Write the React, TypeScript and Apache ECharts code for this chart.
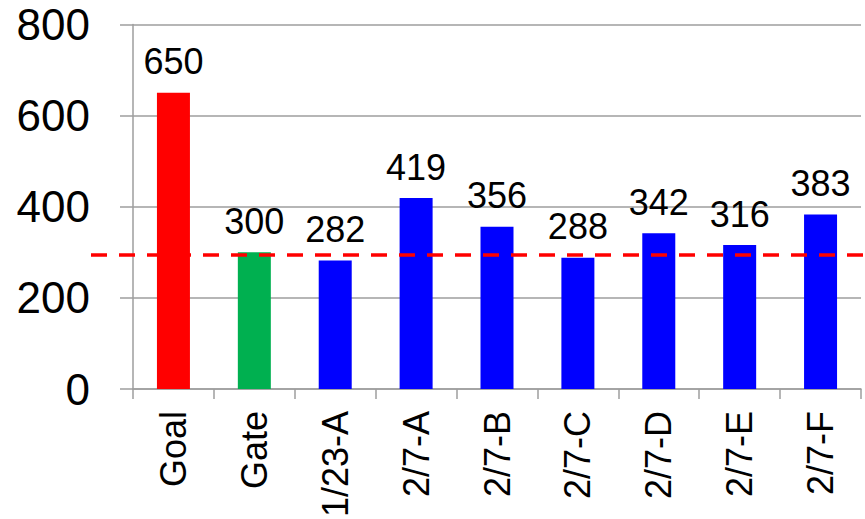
import React, { useEffect, useRef } from "react";
import * as echarts from "echarts";

const categories = ["Goal", "Gate", "1/23-A", "2/7-A", "2/7-B", "2/7-C", "2/7-D", "2/7-E", "2/7-F"];
const values = [650, 300, 282, 419, 356, 288, 342, 316, 383];
const barColors = ["#FF0000", "#00B050", "#0000FF", "#0000FF", "#0000FF", "#0000FF", "#0000FF", "#0000FF", "#0000FF"];
const thresholdValue = 294;
const yTicks = { min: 0, max: 800, interval: 200 };

const FONT = "'Liberation Sans', Arial, sans-serif";
const GRAY = "#9e9e9e";

export default function App() {
  const ref = useRef<HTMLDivElement>(null);
  useEffect(() => {
    if (!ref.current) return;
    const chart = echarts.init(ref.current, null, { renderer: "svg" });
    chart.setOption({
      animation: false,
      grid: { left: 133, right: 4, top: 24.5, bottom: 130, containLabel: false, outerBoundsMode: "none" },
      xAxis: {
        type: "category",
        data: categories,
        axisLine: { lineStyle: { color: GRAY, width: 1.5 } },
        axisTick: { show: true, length: 10, lineStyle: { color: GRAY, width: 1.5 } },
        axisLabel: {
          rotate: 90,
          fontSize: 36,
          fontFamily: FONT,
          color: "#000",
          margin: 22,
          interval: 0,
        },
      },
      yAxis: {
        type: "value",
        min: yTicks.min,
        max: yTicks.max,
        interval: yTicks.interval,
        axisLine: { show: true, lineStyle: { color: GRAY, width: 1.5 } },
        axisTick: { show: true, length: 13, lineStyle: { color: GRAY, width: 1.5 } },
        splitLine: { show: true, lineStyle: { color: GRAY, width: 1.5 } },
        axisLabel: { fontSize: 44, fontFamily: FONT, color: "#000", margin: 43 },
      },
      series: [
        {
          type: "bar",
          barWidth: 33,
          data: values.map((v, i) => ({ value: v, itemStyle: { color: barColors[i] } })),
          label: {
            show: true,
            position: "top",
            distance: 13,
            fontSize: 36,
            fontFamily: FONT,
            color: "#000",
          },
        },
      ],
    });
    const y = chart.convertToPixel({ yAxisIndex: 0 }, thresholdValue) as number;
    chart.setOption({
      graphic: [
        {
          type: "line",
          z: 100,
          shape: { x1: 91, y1: y, x2: 865, y2: y },
          style: { stroke: "#FF0000", lineWidth: 3.5, lineDash: [16, 12] },
        },
      ],
    });
    return () => chart.dispose();
  }, []);
  return <div ref={ref} style={{ width: 865, height: 519, position: "absolute", left: 0, top: 0 }} />;
}
